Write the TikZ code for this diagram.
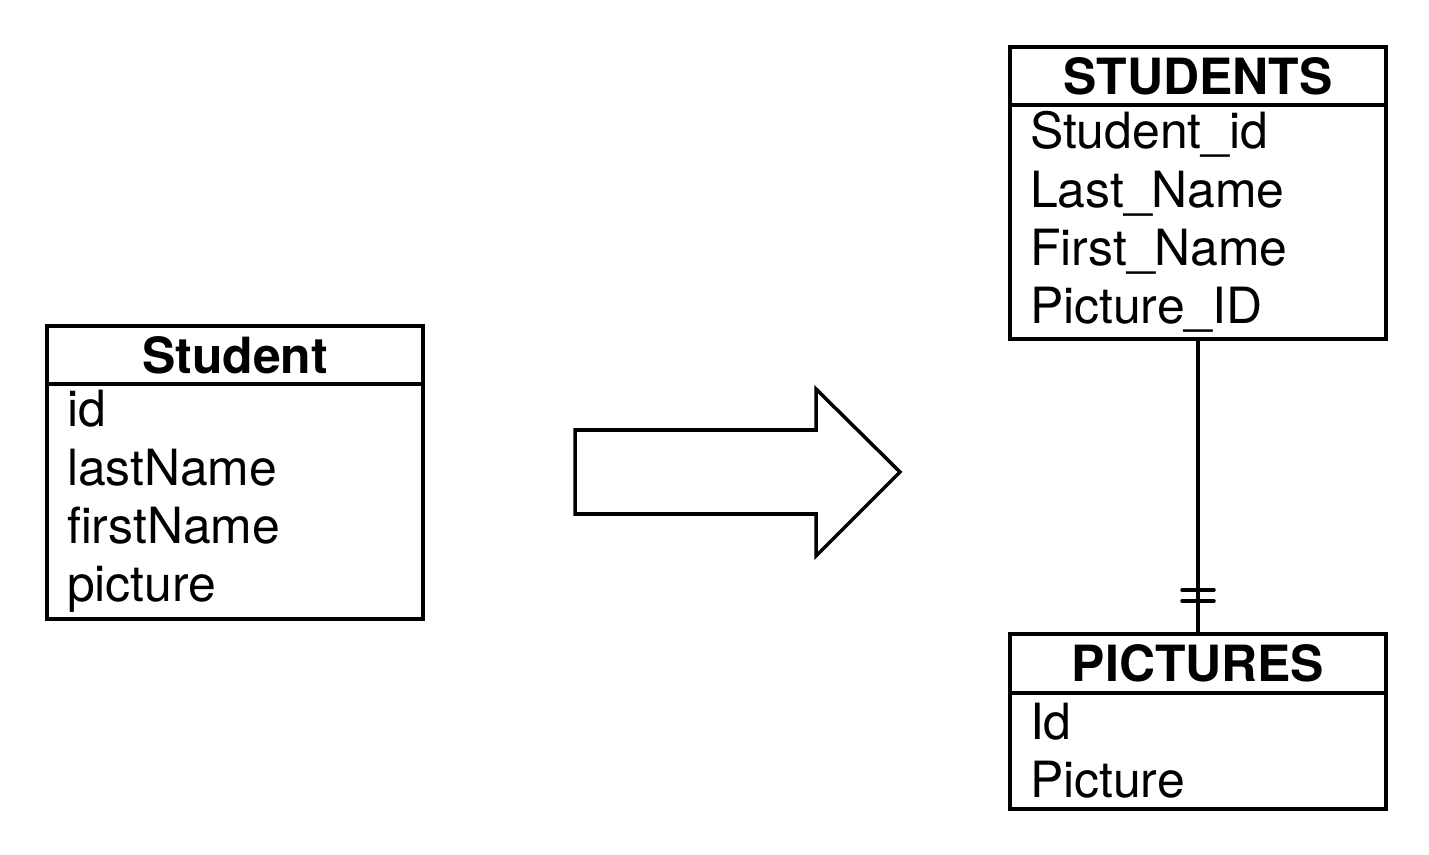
\documentclass[tikz,border=0pt]{standalone}
\usepackage{fontspec}
\setmainfont{TeX Gyre Heros}
\usepackage{tikz}
\usetikzlibrary{positioning}
\tikzstyle{tablehead} = [draw=black, line width=1pt, rectangle, outer sep=0pt,
    inner sep=0pt, minimum width=3.76cm, minimum height=0.58cm,
    font=\fontsize{14.2pt}{16.5pt}\selectfont\bfseries]
\tikzstyle{tablebody} = [draw=black, line width=1pt, rectangle, outer sep=0pt,
    inner xsep=0.2cm, inner ysep=0pt, text width=3.36cm, align=left,
    font=\fontsize{14.2pt}{16.6pt}\selectfont]
\tikzstyle{bigarrow} = [draw=black, line width=1pt, fill=white]

\begin{document}
\begin{tikzpicture}
                \useasboundingbox (0,0) rectangle (14.29,8.54);
                % object class
                \node [tablehead] (studenthead) at (2.35,4.99) {Student};
                \node [tablebody, minimum height=2.35cm, below=0pt of studenthead] (studentbody)
                    {id\\lastName\\firstName\\picture};
                % arrow
                \draw [bigarrow] (5.75,4.24) -- (8.16,4.24) -- (8.16,4.65) -- (9.00,3.82)
                    -- (8.16,2.98) -- (8.16,3.40) -- (5.75,3.40) -- cycle;
                % tables
                \node [tablehead] (studentshead) at (11.98,7.78) {STUDENTS};
                \node [tablebody, minimum height=2.34cm, below=0pt of studentshead] (studentsbody)
                    {Student\_id\\Last\_Name\\First\_Name\\Picture\_ID};
                \node [tablehead, minimum height=0.59cm] (pictureshead) at (11.98,1.905) {PICTURES};
                \node [tablebody, minimum height=1.16cm, below=0pt of pictureshead] (picturesbody)
                    {Id\\Picture};
                % relation
                \draw [line width=1pt] (studentsbody.south) -- (pictureshead.north);
                \draw [line width=1pt, line cap=round] ([xshift=-0.16cm, yshift=0.33cm]pictureshead.north) -- ++(0.32,0);
                \draw [line width=1pt, line cap=round] ([xshift=-0.16cm, yshift=0.44cm]pictureshead.north) -- ++(0.32,0);
\end{tikzpicture}
\end{document}
